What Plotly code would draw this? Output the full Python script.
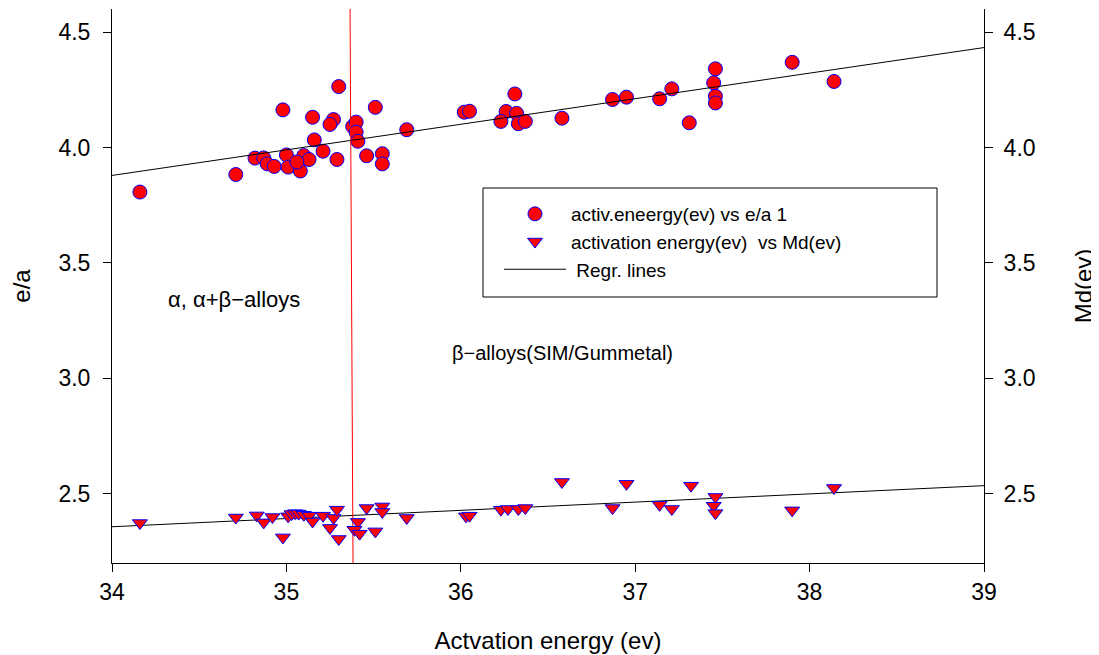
import plotly.graph_objects as go

# ---- data ----
ea_x = [34.16, 34.71, 34.98, 35.30, 35.15, 35.27, 35.25, 35.51, 35.38, 35.40,
        35.40, 35.41, 35.69, 35.16, 35.21, 35.29, 35.46, 35.55, 35.55, 34.82,
        34.87, 34.89, 34.93, 35.00, 35.01, 35.08, 35.10, 35.13, 35.06, 36.02,
        36.05, 36.31, 36.26, 36.32, 36.23, 36.33, 36.37, 36.58, 36.87, 36.95,
        37.14, 37.21, 37.31, 37.46, 37.45, 37.46, 37.46, 37.90, 38.14]
ea_y = [3.807, 3.883, 4.163, 4.264, 4.131, 4.121, 4.100, 4.174, 4.091, 4.110,
        4.066, 4.027, 4.077, 4.033, 3.984, 3.948, 3.964, 3.973, 3.929, 3.954,
        3.955, 3.929, 3.918, 3.968, 3.915, 3.898, 3.965, 3.948, 3.937, 4.153,
        4.157, 4.232, 4.156, 4.148, 4.113, 4.103, 4.113, 4.127, 4.208, 4.218,
        4.211, 4.254, 4.107, 4.341, 4.280, 4.222, 4.193, 4.369, 4.286]

md_x = [34.16, 34.71, 34.83, 34.87, 34.92, 34.98, 35.01, 35.03, 35.05, 35.07,
        35.10, 35.13, 35.15, 35.21, 35.27, 35.25, 35.29, 35.30, 35.41, 35.39,
        35.42, 35.46, 35.55, 35.55, 35.51, 35.69, 36.03, 36.05, 36.58, 36.23,
        36.27, 36.33, 36.37, 36.87, 36.95, 37.14, 37.21, 37.32, 37.46, 37.45,
        37.46, 37.90, 38.14]
md_y = [2.373, 2.397, 2.406, 2.376, 2.399, 2.311, 2.402, 2.412, 2.416, 2.414,
        2.409, 2.405, 2.380, 2.405, 2.395, 2.352, 2.431, 2.304, 2.378, 2.344,
        2.327, 2.438, 2.445, 2.421, 2.337, 2.395, 2.402, 2.405, 2.551, 2.431,
        2.434, 2.434, 2.438, 2.438, 2.543, 2.452, 2.434, 2.535, 2.486, 2.448,
        2.416, 2.428, 2.525]

reg_x = [34, 39]
reg_ea = [3.879, 4.433]
reg_md = [2.357, 2.535]

boundary_x = [35.365, 35.382]
boundary_y = [4.6, 2.2]

x_ticks = [34, 35, 36, 37, 38, 39]
y_ticks = [2.5, 3.0, 3.5, 4.0, 4.5]

FONT = "Liberation Sans, Arial, sans-serif"

fig = go.Figure()

fig.add_trace(go.Scatter(
    x=ea_x, y=ea_y, mode="markers", name="activ.eneergy(ev) vs e/a 1",
    marker=dict(symbol="circle", size=14, color="#ff0000",
                line=dict(color="#0000ff", width=1)),
))
fig.add_trace(go.Scatter(
    x=md_x, y=md_y, mode="markers", name="activation energy(ev)  vs Md(ev)",
    yaxis="y2",
    marker=dict(symbol="triangle-down", size=13, color="#ff0000",
                line=dict(color="#0000ff", width=1)),
))
fig.add_trace(go.Scatter(
    x=reg_x + [None] + reg_x, y=reg_ea + [None] + reg_md, mode="lines",
    name=" Regr. lines", line=dict(color="black", width=1),
))
fig.add_trace(go.Scatter(
    x=boundary_x, y=boundary_y, mode="lines", showlegend=False,
    line=dict(color="#ff0000", width=1),
))

fig.add_annotation(x=34.70, y=3.34, xref="x", yref="y", showarrow=False,
                   text="α, α+β−alloys", font=dict(family=FONT, size=22, color="black"))
fig.add_annotation(x=35.94, y=3.108, xref="x", yref="y", showarrow=False,
                   xanchor="left",
                   text="β−alloys(SIM/Gummetal)", font=dict(family=FONT, size=20, color="black"))

# plot area in page pixels: x 112..984, y 9..563
PX0, PX1, PY0, PY1 = 112, 984, 9, 563
PW, PH = PX1 - PX0, PY1 - PY0

# legend frame
fig.add_shape(type="rect", xref="paper", yref="paper",
              x0=(483 - PX0) / PW, x1=(937 - PX0) / PW,
              y0=(PY1 - 297) / PH, y1=(PY1 - 188) / PH,
              line=dict(color="black", width=1), fillcolor="rgba(0,0,0,0)")

axis_common = dict(
    showgrid=False, zeroline=False, showline=True, linecolor="black", linewidth=1,
    ticks="outside", ticklen=8, tickcolor="black", tickwidth=1,
    tickfont=dict(family=FONT, size=23, color="black"),
)

# the page has an 8px body margin, compensate so the plot area lands at PX0..PX1
OFF = 8
fig.update_layout(
    width=1099, height=655, autosize=False,
    margin=dict(l=PX0 - OFF, r=1099 - PX1 + OFF, t=PY0 - OFF, b=655 - PY1 + OFF),
    paper_bgcolor="white", plot_bgcolor="white",
    font=dict(family=FONT, color="black"),
    xaxis=dict(range=[34, 39], tickvals=x_ticks,
               title=dict(text="Actvation energy (ev)", font=dict(family=FONT, size=24), standoff=28),
               **axis_common),
    yaxis=dict(range=[2.2, 4.6], tickvals=y_ticks, tickformat=".1f", ticklabelstandoff=8,
               title=dict(text="e/a", font=dict(family=FONT, size=24), standoff=34),
               **axis_common),
    yaxis2=dict(range=[2.2, 4.6], tickvals=y_ticks, tickformat=".1f", ticklabelstandoff=6,
                overlaying="y", side="right",
                title=dict(text="Md(ev)", font=dict(family=FONT, size=24), standoff=40),
                **axis_common),
    legend=dict(x=(499 - PX0) / PW, y=(PY1 - 195) / PH, xanchor="left", yanchor="top",
                bgcolor="rgba(0,0,0,0)", borderwidth=0,
                font=dict(family=FONT, size=19, color="black"), itemwidth=62),
    showlegend=True,
)

fig.write_html("out.html")
